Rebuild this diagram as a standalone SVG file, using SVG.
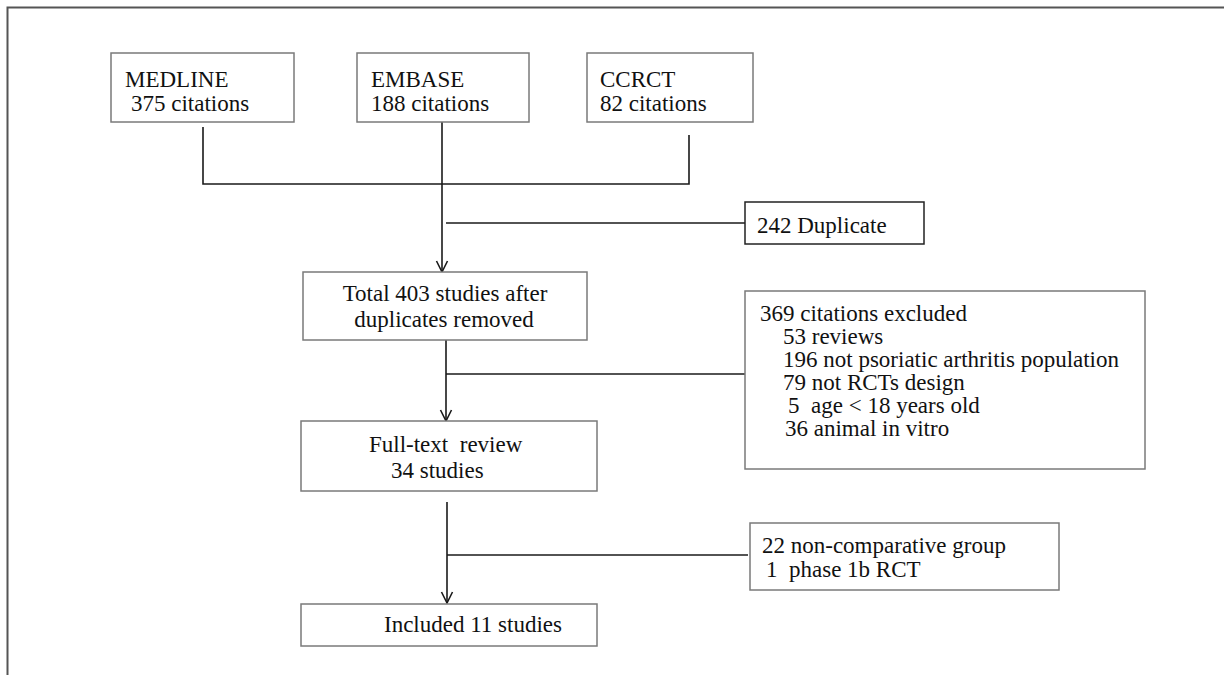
<svg xmlns="http://www.w3.org/2000/svg" width="1224" height="675" viewBox="0 0 1224 675">
<style>
  .box{fill:#fff;stroke:#7a7a7a;stroke-width:1.5}
  .dark{stroke:#222}
  .conn{fill:none;stroke:#1a1a1a;stroke-width:1.6}
  text{font-family:"Liberation Serif","Times New Roman",serif;font-size:23px;fill:#111}
  .c{text-anchor:middle}
</style>
<defs>
  <marker id="arr" markerWidth="14" markerHeight="14" refX="12" refY="7" orient="auto" markerUnits="userSpaceOnUse" viewBox="0 0 14 14">
    <path d="M1,1.5 L12,7 L1,12.5" fill="none" stroke="#1a1a1a" stroke-width="1.6"/>
  </marker>
</defs>
<rect width="1224" height="675" fill="#fff"/>
<path d="M7.5,680 L7.5,7.5 L1230,7.5" fill="none" stroke="#555" stroke-width="2"/>

<g id="connectors">
  <path class="conn" d="M203,127 L203,184 L689,184 L689,135"/>
  <path class="conn" d="M442,122 L442,272" marker-end="url(#arr)"/>
  <path class="conn" d="M446,223 L745,223"/>
  <path class="conn" d="M446,340 L446,421" marker-end="url(#arr)"/>
  <path class="conn" d="M446,374 L745,374"/>
  <path class="conn" d="M447,502 L447,603" marker-end="url(#arr)"/>
  <path class="conn" d="M447,555 L748,555"/>
</g>

<g id="medline">
  <rect class="box" x="111" y="53" width="183" height="69"/>
  <text x="125" y="87">MEDLINE</text>
  <text x="131" y="111">375 citations</text>
</g>
<g id="embase">
  <rect class="box" x="357" y="53" width="172" height="69"/>
  <text x="371" y="87">EMBASE</text>
  <text x="371" y="111">188 citations</text>
</g>
<g id="ccrct">
  <rect class="box" x="587" y="53" width="166" height="69"/>
  <text x="600" y="87">CCRCT</text>
  <text x="600" y="111">82 citations</text>
</g>
<g id="duplicate">
  <rect class="box dark" x="745" y="202" width="179" height="42"/>
  <text x="757" y="233">242 Duplicate</text>
</g>
<g id="total">
  <rect class="box" x="303" y="272" width="284" height="68"/>
  <text class="c" x="445" y="301">Total 403 studies after</text>
  <text class="c" x="444" y="327">duplicates removed</text>
</g>
<g id="excluded">
  <rect class="box" x="745" y="291" width="400" height="178"/>
  <text x="760" y="321">369 citations excluded</text>
  <text x="783" y="344">53 reviews</text>
  <text x="783" y="367">196 not psoriatic arthritis population</text>
  <text x="783" y="390">79 not RCTs design</text>
  <text x="788" y="413" xml:space="preserve">5  age &lt; 18 years old</text>
  <text x="785" y="436">36 animal in vitro</text>
</g>
<g id="fulltext">
  <rect class="box" x="301" y="421" width="296" height="70"/>
  <text x="369" y="452" xml:space="preserve">Full-text  review</text>
  <text x="391" y="478">34 studies</text>
</g>
<g id="noncomp">
  <rect class="box" x="750" y="523" width="309" height="67"/>
  <text x="762" y="553">22 non-comparative group</text>
  <text x="766" y="577" xml:space="preserve">1  phase 1b RCT</text>
</g>
<g id="included">
  <rect class="box" x="301" y="604" width="296" height="42"/>
  <text x="384" y="632">Included 11 studies</text>
</g>
</svg>
